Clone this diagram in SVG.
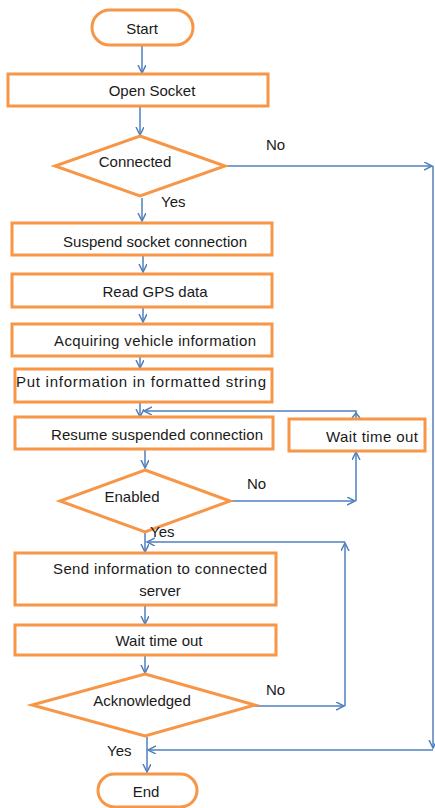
<svg xmlns="http://www.w3.org/2000/svg" width="435" height="808" viewBox="0 0 435 808">
<style>
.n{fill:#fff;stroke:#F79646;stroke-width:3}
.c{fill:none;stroke:#4F81BD;stroke-width:1.5}
text{font-family:"Liberation Sans",Arial,sans-serif;font-size:15px;fill:#1a1a1a}
.m{text-anchor:middle}
</style>
<defs>
<marker id="a" markerWidth="10" markerHeight="10" refX="8" refY="4" orient="auto" markerUnits="userSpaceOnUse">
<path d="M0,0 L8,4 L0,8" fill="none" stroke="#4F81BD" stroke-width="1.5"/>
</marker>
</defs>
<rect width="435" height="808" fill="#fff"/>
<g id="connectors">
<path class="c" d="M142,45 V73" marker-end="url(#a)"/>
<path class="c" d="M140,106 V135" marker-end="url(#a)"/>
<path class="c" d="M142,198 V221" marker-end="url(#a)"/>
<path class="c" d="M143,255 V272" marker-end="url(#a)"/>
<path class="c" d="M143,307 V322" marker-end="url(#a)"/>
<path class="c" d="M140,356 V368" marker-end="url(#a)"/>
<path class="c" d="M140,402 V417" marker-end="url(#a)"/>
<path class="c" d="M145,449 V468" marker-end="url(#a)"/>
<path class="c" d="M145,532 V552" marker-end="url(#a)"/>
<path class="c" d="M145,605 V624" marker-end="url(#a)"/>
<path class="c" d="M145,655 V673" marker-end="url(#a)"/>
<path class="c" d="M147,737 V772" marker-end="url(#a)"/>
<path class="c" d="M225,166 H432" marker-end="url(#a)"/>
<path class="c" d="M433,166 V748" marker-end="url(#a)"/>
<path class="c" d="M433,750 H148" marker-end="url(#a)"/>
<path class="c" d="M230,501 H355" marker-end="url(#a)"/>
<path class="c" d="M356,501 V452" marker-end="url(#a)"/>
<path class="c" d="M356,418 V411 H144" marker-end="url(#a)"/>
<path class="c" d="M352,418 L356,413 L360,418"/>
<path class="c" d="M253,706 H344" marker-end="url(#a)"/>
<path class="c" d="M345,706 V543" marker-end="url(#a)"/>
<path class="c" d="M345,542 H147" marker-end="url(#a)"/>
</g>
<g id="start"><rect class="n" x="92" y="10" width="101" height="35" rx="17.5"/><text class="m" x="142" y="34">Start</text></g>
<g id="open-socket"><rect class="n" x="8" y="74" width="260" height="32"/><text class="m" x="152" y="96">Open Socket</text></g>
<g id="connected"><polygon class="n" points="140,136 225,166 140,196 55,166"/><text class="m" x="135" y="167">Connected</text></g>
<g id="suspend"><rect class="n" x="12" y="223" width="260" height="32"/><text class="m" x="155" y="247" textLength="184">Suspend socket connection</text></g>
<g id="read-gps"><rect class="n" x="12" y="274" width="260" height="33"/><text class="m" x="155" y="297">Read GPS data</text></g>
<g id="acquiring"><rect class="n" x="12" y="324" width="260" height="32"/><text class="m" x="155" y="346" textLength="202">Acquiring vehicle information</text></g>
<g id="put-info"><rect class="n" x="15" y="369" width="257" height="33"/><text class="m" x="141" y="387" textLength="250">Put information in formatted string</text></g>
<g id="resume"><rect class="n" x="15" y="417" width="258" height="32"/><text class="m" x="157" y="440" textLength="212">Resume suspended connection</text></g>
<g id="wait-right"><rect class="n" x="289" y="419" width="136" height="32"/><text class="m" x="372" y="442" textLength="92">Wait time out</text></g>
<g id="enabled"><polygon class="n" points="145,470 230,501 145,532 60,501"/><text class="m" x="132" y="502">Enabled</text></g>
<g id="send"><rect class="n" x="15" y="553" width="261" height="52"/><text class="m" x="160" y="574" textLength="214">Send information to connected</text><text class="m" x="160" y="596">server</text></g>
<g id="wait-bottom"><rect class="n" x="15" y="625" width="261" height="30"/><text class="m" x="159" y="646">Wait time out</text></g>
<g id="acknowledged"><polygon class="n" points="145,674 255,705 145,736 32,705"/><text class="m" x="142" y="706">Acknowledged</text></g>
<g id="end"><rect class="n" x="98" y="774" width="99" height="33" rx="16.5"/><text class="m" x="146" y="797">End</text></g>
<g id="labels">
<text x="266" y="150">No</text>
<text x="161" y="207">Yes</text>
<text x="247" y="489">No</text>
<text x="150" y="537">Yes</text>
<text x="266" y="695">No</text>
<text x="107" y="756">Yes</text>
</g>
</svg>
